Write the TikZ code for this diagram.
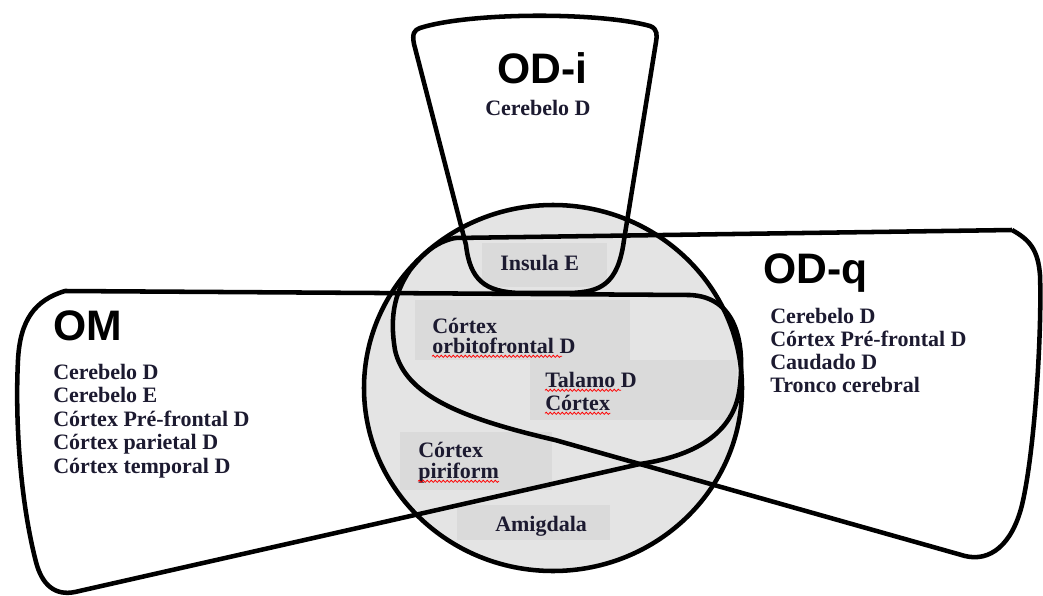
\documentclass[tikz,border=0pt]{standalone}
\usepackage{fontspec}
\setmainfont{Liberation Serif}
\newfontfamily\titlefont{Liberation Sans}
\usetikzlibrary{decorations.pathmorphing}
\definecolor{disc}{RGB}{228,228,228}
\definecolor{patch}{RGB}{218,218,218}
\definecolor{ink}{RGB}{28,26,48}

\begin{document}
\begin{tikzpicture}[x=0.75pt, y=-0.75pt]
  \tikzstyle{outline}=[line width=3.4pt, line join=round]
  \tikzstyle{patchbox}=[fill=patch]
  \tikzstyle{title}=[font=\titlefont\bfseries\fontsize{32}{36}\selectfont, inner sep=0pt, anchor=base west]
  \tikzstyle{item}=[font=\bfseries\fontsize{16.5}{18}\selectfont, text=ink, inner sep=0pt, anchor=base west]
  \tikzstyle{squiggle}=[red, line width=0.6pt, decorate, decoration={snake, amplitude=0.8pt, segment length=3pt}]

\useasboundingbox (0,0) rectangle (1043,596);

% grey disc and text patches
\fill[disc] (553,388) ellipse [x radius=141.75pt, y radius=137.25pt];
\fill[patchbox] (482,243) rectangle (607,287);
\fill[patchbox] (415,300) rectangle (630,360);
\fill[patchbox] (530,360) rectangle (737,420);
\fill[patchbox] (400,432) rectangle (552,490);
\fill[patchbox] (457,505) rectangle (610,540);

% OD-i
\draw[outline] (420,28)
  .. controls (470,12) and (600,12) .. (650,26)
  .. controls (658,29) and (657,36) .. (656,42)
  -- (624,240)
  .. controls (618,285) and (600,292) .. (570,293)
  -- (520,293)
  .. controls (485,292) and (470,280) .. (466,245)
  -- (414,44)
  .. controls (412,34) and (414,30) .. (420,28) -- cycle;

% OM
\draw[outline] (65,291) -- (690,295)
  .. controls (735,297) and (745,340) .. (740,385)
  .. controls (736,430) and (700,455) .. (640,464)
  -- (75,592)
  .. controls (55,596) and (42,585) .. (36,562)
  .. controls (20,500) and (15,420) .. (18,360)
  .. controls (20,320) and (35,300) .. (65,291) -- cycle;

% OD-q
\draw[outline] (1012,230)
  .. controls (1030,240) and (1038,250) .. (1040,275)
  .. controls (1042,330) and (1035,450) .. (1022,505)
  .. controls (1012,545) and (990,562) .. (965,556)
  -- (555,440)
  .. controls (460,418) and (405,395) .. (395,350)
  .. controls (390,320) and (393,295) .. (410,270)
  .. controls (422,255) and (435,242) .. (455,238)
  -- (1012,230);

% circle outline
\draw[outline] (553,388) ellipse [x radius=141.75pt, y radius=137.25pt];

% titles
\node[title] (odi) at (497,83) {OD-i};
\node[title] (odq) at (763,283) {OD-q};
\node[title] (om) at (53,340) {OM};

% OD-i
\node[item] (odi1) at (485,115) {Cerebelo D};

% OD-q
\node[item] (odq1) at (770,323) {Cerebelo D};
\node[item] (odq2) at (770,346) {Córtex Pré-frontal D};
\node[item] (odq3) at (770,369) {Caudado D};
\node[item] (odq4) at (770,392) {Tronco cerebral};

% OM
\node[item] (om1) at (53,379) {Cerebelo D};
\node[item] (om2) at (53,402.5) {Cerebelo E};
\node[item] (om3) at (53,426) {Córtex Pré-frontal D};
\node[item] (om4) at (53,449.5) {Córtex parietal D};
\node[item] (om5) at (53,473) {Córtex temporal D};

% inside the disc
\node[item] (ins) at (500,270) {Insula E};
\node[item] (orb1) at (432,333) {Córtex};
\node[item] (orb2) at (432,353) {orbitofrontal D};
\node[item] (tal1) at (545,387) {Talamo D};
\node[item] (tal2) at (545,410) {Córtex};
\node[item] (pir1) at (418,457) {Córtex};
\node[item] (pir2) at (418,478) {piriform};
\node[item] (amg) at (495,531) {Amigdala};

\draw[squiggle] ([yshift=-2.5pt]orb2.base west) -- ++(130,0);
\draw[squiggle] ([yshift=-2.5pt]tal1.base west) -- ++(76,0);
\draw[squiggle] ([yshift=-2.5pt]tal2.base west) -- ([yshift=-2.5pt]tal2.base east);
\draw[squiggle] ([yshift=-2.5pt]pir2.base west) -- ([yshift=-2.5pt]pir2.base east);

\end{tikzpicture}
\end{document}
